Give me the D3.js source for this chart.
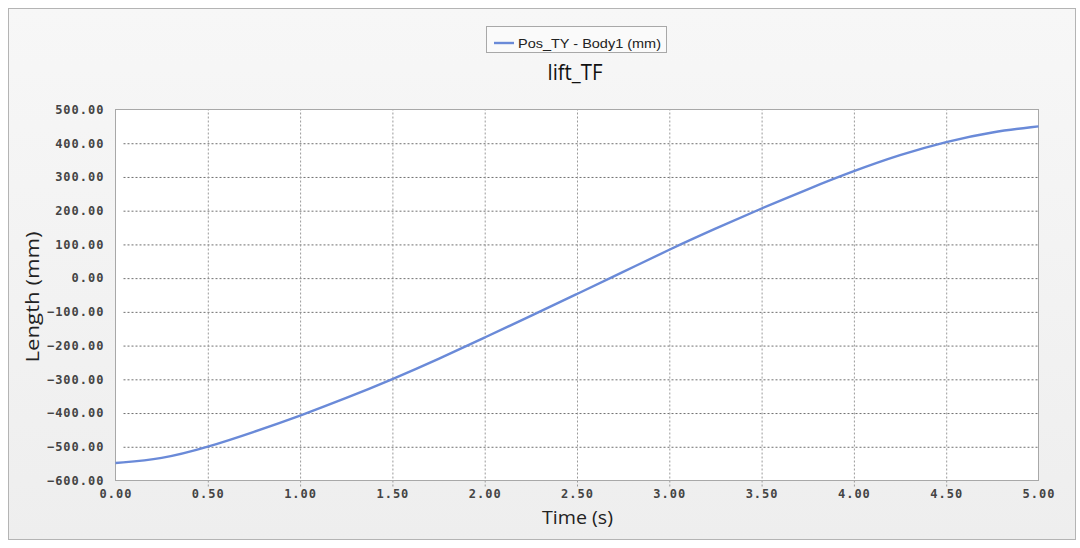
<!DOCTYPE html>
<html>
<head>
<meta charset="utf-8">
<script src="https://cdn.jsdelivr.net/npm/d3@7"></script>
<style>
html,body{margin:0;padding:0;background:#fff;}
svg{display:block;}
</style>
</head>
<body>
<svg id="chart" width="1080" height="548"></svg>
<script>
// Data
const times = [0, 0.25, 0.5, 0.75, 1.0, 1.25, 1.5, 1.75, 2.0, 2.25, 2.5, 2.75, 3.0, 3.25, 3.5, 3.75, 4.0, 4.25, 4.5, 4.75, 5.0];
const posTY = [-548, -537, -501, -456, -408, -356, -300, -240, -176, -112, -47, 18, 85, 147, 207, 264, 318, 366, 405, 434, 450];
const xTicks = [0, 0.5, 1.0, 1.5, 2.0, 2.5, 3.0, 3.5, 4.0, 4.5, 5.0];
const yTicks = [500, 400, 300, 200, 100, 0, -100, -200, -300, -400, -500, -600];
const seriesName = "Pos_TY - Body1 (mm)";
const chartTitle = "lift_TF";
const xLabel = "Time (s)";
const yLabel = "Length (mm)";

const svg = d3.select("#chart");
const plot = {left: 115.5, right: 1038.5, top: 109.5, bottom: 480.5};

// panel background
const defs = svg.append("defs");
const grad = defs.append("linearGradient").attr("id","bg").attr("x1",0).attr("y1",0).attr("x2",0).attr("y2",1);
grad.append("stop").attr("offset","0%").attr("stop-color","#f7f7f7");
grad.append("stop").attr("offset","100%").attr("stop-color","#eeeeee");
svg.append("rect").attr("x",8.5).attr("y",8.5).attr("width",1067).attr("height",531)
  .attr("fill","url(#bg)").attr("stroke","#b4b4b4").attr("stroke-width",1);

const x = d3.scaleLinear().domain([0,5]).range([plot.left, plot.right]);
const y = d3.scaleLinear().domain([-600,500]).range([plot.bottom, plot.top]);

// plot background
svg.append("rect").attr("x",plot.left).attr("y",plot.top)
  .attr("width",plot.right-plot.left).attr("height",plot.bottom-plot.top)
  .attr("fill","#ffffff");

const monoFont = "'DejaVu Sans Mono', 'Liberation Mono', monospace";
const sansFont = "'Open Sans', 'Noto Sans', sans-serif";

// Y axis (grid + ticks + labels)
const yAxis = d3.axisLeft(y).tickValues(yTicks).tickFormat(d3.format(".2f"))
  .tickSize(-(plot.right-plot.left)).tickPadding(12);
const gy = svg.append("g").attr("transform",`translate(${plot.left},0)`).call(yAxis);
gy.select(".domain").remove();
gy.selectAll(".tick line")
  .attr("x1", 8)
  .attr("stroke","#707070").attr("stroke-width",1).attr("stroke-dasharray","2,2");
gy.selectAll(".tick").filter(d => d===500 || d===-600).select("line").remove();
gy.selectAll(".tick text")
  .attr("font-family",monoFont).attr("font-weight","bold").attr("font-size","12px")
  .attr("letter-spacing","1px").attr("fill","#444").attr("x",-11);

// X axis
const xAxis = d3.axisBottom(x).tickValues(xTicks).tickFormat(d3.format(".2f"))
  .tickSize(-(plot.bottom-plot.top)).tickPadding(8);
const gx = svg.append("g").attr("transform",`translate(0,${plot.bottom})`).call(xAxis);
gx.select(".domain").remove();
gx.selectAll(".tick line")
  .attr("y1", 6)
  .attr("stroke","#9a9a9a").attr("stroke-width",1).attr("stroke-dasharray","2,2");
gx.selectAll(".tick").filter(d => d===0 || d===5).select("line").remove();
gx.selectAll(".tick text")
  .attr("font-family",monoFont).attr("font-weight","bold").attr("font-size","12px")
  .attr("letter-spacing","1px").attr("fill","#444").attr("dy","0.8em");

// plot border
svg.append("rect").attr("x",plot.left).attr("y",plot.top)
  .attr("width",plot.right-plot.left).attr("height",plot.bottom-plot.top)
  .attr("fill","none").attr("stroke","#a8a8a8").attr("stroke-width",1);

// line
const line = d3.line().x((d,i)=>x(times[i])).y(d=>y(d)).curve(d3.curveBasis);
svg.append("path").datum(posTY).attr("d",line)
  .attr("fill","none").attr("stroke","#6a8ad8").attr("stroke-width",2.4);

// axis labels
svg.append("text").attr("x",577.5).attr("y",524)
  .attr("text-anchor","middle").attr("font-family",sansFont)
  .attr("font-size","18px").attr("fill","#222")
  .attr("textLength",71).attr("lengthAdjust","spacingAndGlyphs").text(xLabel);
svg.append("text").attr("transform",`translate(39,297) rotate(-90)`)
  .attr("text-anchor","middle").attr("font-family",sansFont)
  .attr("font-size","19px").attr("fill","#222")
  .attr("textLength",131).attr("lengthAdjust","spacingAndGlyphs").text(yLabel);

// legend
const lg = svg.append("g");
lg.append("rect").attr("x",486.5).attr("y",26.5).attr("width",180).attr("height",26)
  .attr("fill","#fafafa").attr("stroke","#a8a8a8");
lg.append("line").attr("x1",494).attr("x2",514).attr("y1",43).attr("y2",43)
  .attr("stroke","#6a8ad8").attr("stroke-width",2.4);
lg.append("text").attr("x",518).attr("y",47.5)
  .attr("font-family","'Liberation Sans', Arial, sans-serif").attr("font-size","13px")
  .attr("fill","#222").attr("textLength",143).attr("lengthAdjust","spacingAndGlyphs").text(seriesName);

// title
svg.append("text").attr("x",575).attr("y",80)
  .attr("text-anchor","middle").attr("font-family",sansFont)
  .attr("font-size","21px").attr("fill","#111")
  .attr("textLength",55).attr("lengthAdjust","spacingAndGlyphs").text(chartTitle);
</script>
</body>
</html>
